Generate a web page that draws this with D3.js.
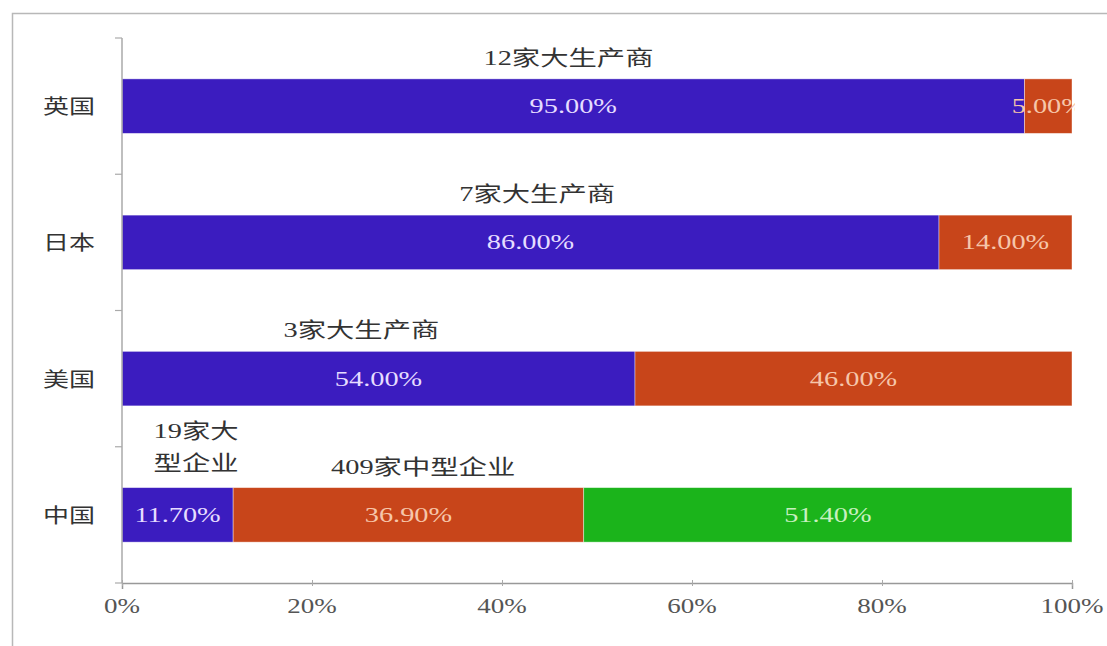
<!DOCTYPE html>
<html>
<head>
<meta charset="utf-8">
<script src="https://cdn.jsdelivr.net/npm/d3@7"></script>
<style>
  html, body { margin: 0; padding: 0; background: #fff; }
  svg { display: block; }
</style>
</head>
<body>
<svg id="chart" width="1107" height="646"></svg>
<script>
// Market share of producers by country
const countries = ["英国", "日本", "美国", "中国"];
const largeShare = [95.0, 86.0, 54.0, 11.7];
const mediumShare = [5.0, 14.0, 46.0, 36.9];
const smallShare = [0, 0, 0, 51.4];
const xTicks = [0, 20, 40, 60, 80, 100];
// Producer-count notes shown above each bar: country, text lines, anchor share
const notes = [
  { country: "英国", lines: ["12家大生产商"], at: 47.0 },
  { country: "日本", lines: ["7家大生产商"], at: 43.7 },
  { country: "美国", lines: ["3家大生产商"], at: 25.2 },
  { country: "中国", lines: ["19家大", "型企业"], at: 7.8 },
  { country: "中国", lines: ["409家中型企业"], at: 31.7 }
];

const colors = ["#3b1cbf", "#c8451a", "#1bb41b"];
const labelColors = ["#e6ddff", "#f6c6aa", "#c8f0c0"];
const seriesNames = ["large", "medium", "small"];

const W = 1107, H = 646;
const margin = { left: 122, right: 35, top: 38, bottom: 63 };
const SX = 1.35; // horizontal stretch of the lettering
const SERIF = "'Liberation Serif', 'DejaVu Serif', serif";
const MIXED = "'Liberation Serif', 'Noto Sans CJK SC', serif";
const CJK = "'Noto Sans CJK SC', sans-serif";

const svg = d3.select("#chart");

// wide-set text centred on (cx, baseline)
function wideText(parent, cx, cy, str, opts) {
  return parent.append("text")
    .attr("transform", `translate(${cx},${cy}) scale(${opts.sx || SX},1)`)
    .attr("text-anchor", "middle")
    .attr("font-family", opts.family)
    .attr("font-size", opts.size)
    .attr("fill", opts.fill)
    .text(str);
}

// outer frame
svg.append("rect")
  .attr("x", 12.5).attr("y", 13.5)
  .attr("width", W).attr("height", H)
  .attr("fill", "none").attr("stroke", "#b8b8b8").attr("stroke-width", 1.5);

const x = d3.scaleLinear().domain([0, 100]).range([margin.left, W - margin.right]);
const y = d3.scaleBand().domain(countries).range([margin.top, H - margin.bottom]).paddingInner(0.6).paddingOuter(0.3);

const rows = countries.map((c, i) => ({ country: c, large: largeShare[i], medium: mediumShare[i], small: smallShare[i] }));
const stacked = d3.stack().keys(seriesNames)(rows);

svg.append("clipPath").attr("id", "plotClip")
  .append("rect").attr("x", 0).attr("y", 0).attr("width", x(100) + 3).attr("height", H);

// bars
const g = svg.append("g");
stacked.forEach((layer, k) => {
  g.selectAll(null).data(layer.filter(d => d[1] > d[0])).enter().append("rect")
    .attr("x", d => x(d[0]))
    .attr("y", d => y(d.data.country))
    .attr("width", d => x(d[1]) - x(d[0]))
    .attr("height", y.bandwidth())
    .attr("fill", colors[k])
    .attr("stroke", "#fff")
    .attr("stroke-opacity", 0.5)
    .attr("stroke-width", 0.8);
});

// value labels, centred in each segment
const labels = svg.append("g").attr("clip-path", "url(#plotClip)");
stacked.forEach((layer, k) => {
  layer.filter(d => d[1] > d[0]).forEach(d => {
    const cx = (x(d[0]) + x(d[1])) / 2;
    const cy = y(d.data.country) + y.bandwidth() / 2 + 7;
    wideText(labels, cx, cy, (d[1] - d[0]).toFixed(2) + "%",
      { family: SERIF, size: 21, fill: labelColors[k] });
  });
});

// x axis
const xAxis = svg.append("g")
  .attr("transform", `translate(0,${H - margin.bottom})`)
  .call(d3.axisBottom(x).tickValues(xTicks).tickFormat(() => "").tickSize(6));
xAxis.select(".domain").attr("stroke", "#999").attr("stroke-width", 1.5);
xAxis.selectAll(".tick line").attr("stroke", "#aaa").attr("transform", "translate(0,-3)");
xTicks.forEach(t => {
  wideText(svg, x(t), H - margin.bottom + 30, t + "%",
    { family: SERIF, size: 20, fill: "#555", sx: 1.35 });
});

// y axis line and ticks between categories
const yLine = svg.append("g");
yLine.append("line")
  .attr("x1", margin.left).attr("x2", margin.left)
  .attr("y1", margin.top).attr("y2", H - margin.bottom)
  .attr("stroke", "#aaa").attr("stroke-width", 1.5);
const bounds = d3.range(countries.length + 1).map(i => margin.top + i * (H - margin.bottom - margin.top) / countries.length);
yLine.selectAll(null).data(bounds).enter().append("line")
  .attr("x1", margin.left - 7).attr("x2", margin.left)
  .attr("y1", d => d).attr("y2", d => d)
  .attr("stroke", "#aaa").attr("stroke-width", 1.2);

// category labels
countries.forEach(c => {
  wideText(svg, 69, y(c) + y.bandwidth() / 2 + 8, c,
    { family: CJK, size: 20, fill: "#333", sx: 1.3 });
});

// producer notes
notes.forEach(n => {
  const last = y(n.country) - (n.lines.length > 1 ? 18 : 14);
  n.lines.forEach((line, i) => {
    wideText(svg, x(n.at), last - (n.lines.length - 1 - i) * 32, line,
      { family: MIXED, size: 21, fill: "#333", sx: 1.35 });
  });
});
</script>
</body>
</html>
